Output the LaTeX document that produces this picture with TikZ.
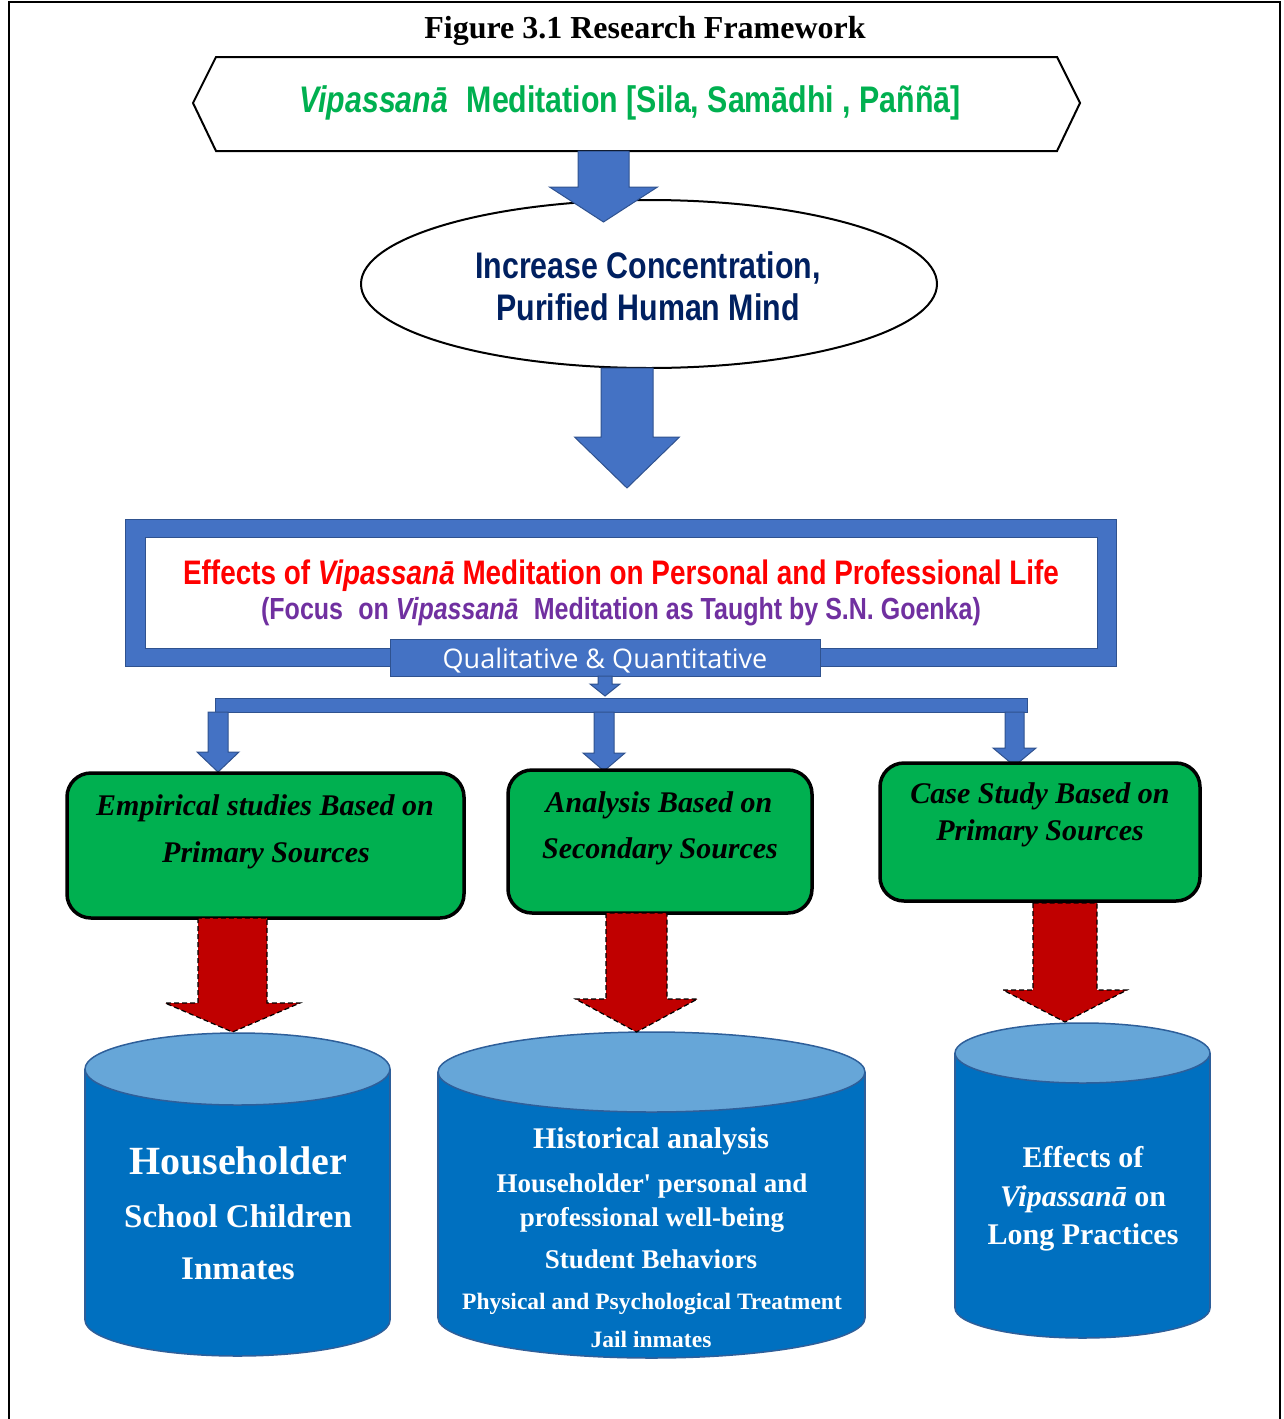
\documentclass[tikz,border=0pt]{standalone}
\usepackage{fontspec}
\setmainfont{Liberation Serif}[Ligatures=TeXOff]
\newfontfamily\narrowsf[FakeStretch=0.82]{Liberation Sans}
\newfontfamily\segoesf{Open Sans}
\definecolor{blueA}{HTML}{4472C4}
\definecolor{blueEdge}{HTML}{2F528F}
\definecolor{greenB}{HTML}{00B050}
\definecolor{redD}{HTML}{C00000}
\definecolor{cylBody}{HTML}{0070C0}
\definecolor{cylTop}{HTML}{66A6D8}
\definecolor{cylEdge}{HTML}{2E5F9A}
\definecolor{navyT}{HTML}{002060}
\definecolor{purpleT}{HTML}{7030A0}
\newcommand\blockdown[7]{%
  \draw[#1] (#2-#4,#3) -- (#2-#4,#6) -- (#2-#5,#6) -- (#2,#7) -- (#2+#5,#6) -- (#2+#4,#6) -- (#2+#4,#3) -- cycle;}
\newcommand\cylshape[7]{% name, x1, x2, top cy, ry, bottom cy, extra
  \fill[cylBody] (#2,#4) rectangle (#3,#6);
  \fill[cylBody] ({(#2+#3)/2},#6) ellipse [x radius={(#3-#2)/2}, y radius=#5];
  \begin{scope}
    \clip (#2-5,#6) rectangle (#3+5,#6+#5+5);
    \draw[cylEdge, line width=1.5pt] ({(#2+#3)/2},#6) ellipse [x radius={(#3-#2)/2}, y radius=#5];
  \end{scope}
  \draw[cylEdge, line width=1.5pt] (#2,#4) -- (#2,#6) (#3,#4) -- (#3,#6);
  \draw[cylEdge, line width=1.5pt, fill=cylTop] ({(#2+#3)/2},#4) ellipse [x radius={(#3-#2)/2}, y radius=#5];
  \coordinate (#1) at ({(#2+#3)/2},#4);
  #7}
\begin{document}
\begin{tikzpicture}[x=1pt,y=-1pt,
  txt/.style={inner sep=0pt, anchor=base, align=center},
  bluearr/.style={fill=blueA, draw=blueEdge, line width=1pt},
  redarr/.style={fill=redD, draw=black, line width=1.2pt, dash pattern=on 5pt off 3pt},
  greenbox/.style={fill=greenB, draw=black, line width=3.5pt, rounded corners=24pt},
  boxtxt/.style={txt, font=\bfseries\itshape\fontsize{30}{36}\selectfont},
  cyltxt/.style={txt, text=white, font=\bfseries}]
\useasboundingbox (0,0) rectangle (1283,1419);
% outer frame
\draw[line width=2pt] (9,1419) -- (9,2) -- (1280,2) -- (1280,1419);
\node[txt, font=\bfseries\fontsize{32}{38}\selectfont] (title) at (645,38) {Figure 3.1 Research Framework};
% hexagon
\draw[line width=2pt, fill=white] (193,103) -- (216,57) -- (1057,57) -- (1080,103) -- (1057,151) -- (216,151) -- cycle;
\node[txt, text=greenB, font=\narrowsf\bfseries\fontsize{37}{44}\selectfont] (hextext) at (630,112)
  {\textit{Vipassanā}\hspace{0.5em}Meditation [Sila, Samādhi , Paññā]};
% ellipse
\draw[line width=2pt, fill=white] (649,284) ellipse [x radius=288, y radius=84];
\coordinate (ell) at (649,284);
\node[txt, text=navyT, font=\narrowsf\bfseries\fontsize{37}{44}\selectfont] (ell1) at (648,278) {Increase Concentration,};
\node[txt, text=navyT, font=\narrowsf\bfseries\fontsize{37}{44}\selectfont] (ell2) at (648,320) {Purified Human Mind};
\blockdown{bluearr}{603.5}{151}{25.5}{54}{187}{222}
\blockdown{bluearr}{627}{368}{26}{52.5}{437}{488}
% effects frame
\fill[blueA] (125,519) rectangle (1116,666);
\fill[white] (145,537) rectangle (1097,648);
\draw[blueEdge, line width=1pt] (125,519) rectangle (1116,666) (145,537) rectangle (1097,648);
\node[txt, text=red, font=\narrowsf\bfseries\fontsize{34}{40}\selectfont] (effects) at (621,584)
  {Effects of \textit{Vipassanā} Meditation on Personal and Professional Life};
\node[txt, text=purpleT, font=\narrowsf\bfseries\fontsize{30.5}{36}\selectfont] (focus) at (621,619)
  {(Focus\hspace{0.5em}on \textit{Vipassanā}\hspace{0.5em}Meditation as Taught by S.N. Goenka)};
\draw[fill=blueA, draw=blueEdge, line width=1pt] (390,639) rectangle (820,676);
\node[txt, text=white, font=\segoesf\fontsize{27}{32}\selectfont] (qual) at (605,668) {Qualitative \& Quantitative};
\blockdown{bluearr}{605}{676}{7}{15}{684}{696}
\draw[bluearr] (215,698) rectangle (1027,712);
\blockdown{bluearr}{218}{712}{10}{21}{752}{772}
\blockdown{bluearr}{604}{712}{10}{21}{753}{771}
\blockdown{bluearr}{1014.5}{712}{9.5}{21.5}{748}{766}
% green boxes
\draw[greenbox] (67,773) rectangle (464,918);
\node[boxtxt] (b1a) at (265,815) {Empirical studies Based on};
\node[boxtxt] (b1b) at (266,862) {Primary Sources};
\draw[greenbox] (508,770) rectangle (812,913);
\node[boxtxt] (b2a) at (659,812) {Analysis Based on};
\node[boxtxt] (b2b) at (660,858) {Secondary Sources};
\draw[greenbox] (880,763) rectangle (1200,901);
\node[boxtxt] (b3a) at (1040,803) {Case Study Based on};
\node[boxtxt] (b3b) at (1040,840) {Primary Sources};
% cylinders
\cylshape{c1}{85}{390}{1069}{36}{1320}{}
\node[cyltxt, font=\bfseries\fontsize{40}{48}\selectfont] (c1a) at (238,1174) {Householder};
\node[cyltxt, font=\bfseries\fontsize{33}{40}\selectfont] (c1b) at (238,1227) {School Children};
\node[cyltxt, font=\bfseries\fontsize{33}{40}\selectfont] (c1c) at (238,1279) {Inmates};
\cylshape{c2}{438}{865}{1072}{40}{1318}{}
\node[cyltxt, font=\bfseries\fontsize{30}{36}\selectfont] (c2a) at (651,1148) {Historical analysis};
\node[cyltxt, font=\bfseries\fontsize{27}{32}\selectfont] (c2b) at (652,1192) {Householder' personal and};
\node[cyltxt, font=\bfseries\fontsize{27}{32}\selectfont] (c2c) at (652,1226) {professional well-being};
\node[cyltxt, font=\bfseries\fontsize{27}{32}\selectfont] (c2d) at (651,1268) {Student Behaviors};
\node[cyltxt, font=\bfseries\fontsize{23.5}{28}\selectfont] (c2e) at (652,1309) {Physical and Psychological Treatment};
\node[cyltxt, font=\bfseries\fontsize{23.5}{28}\selectfont] (c2f) at (651,1347) {Jail inmates};
\cylshape{c3}{955}{1210}{1053}{30}{1308}{}
\node[cyltxt, font=\bfseries\fontsize{30}{36}\selectfont] (c3a) at (1083,1167) {Effects of};
\node[cyltxt, font=\bfseries\fontsize{30}{36}\selectfont] (c3b) at (1083,1206) {\textit{Vipassanā} on};
\node[cyltxt, font=\bfseries\fontsize{30}{36}\selectfont] (c3c) at (1083,1244) {Long Practices};
% red arrows
\blockdown{redarr}{232.5}{918}{34.5}{67.5}{1003}{1032}
\blockdown{redarr}{636.5}{913}{30.5}{61}{999}{1032}
\blockdown{redarr}{1065}{903}{32}{62}{990}{1022}
\end{tikzpicture}
\end{document}
